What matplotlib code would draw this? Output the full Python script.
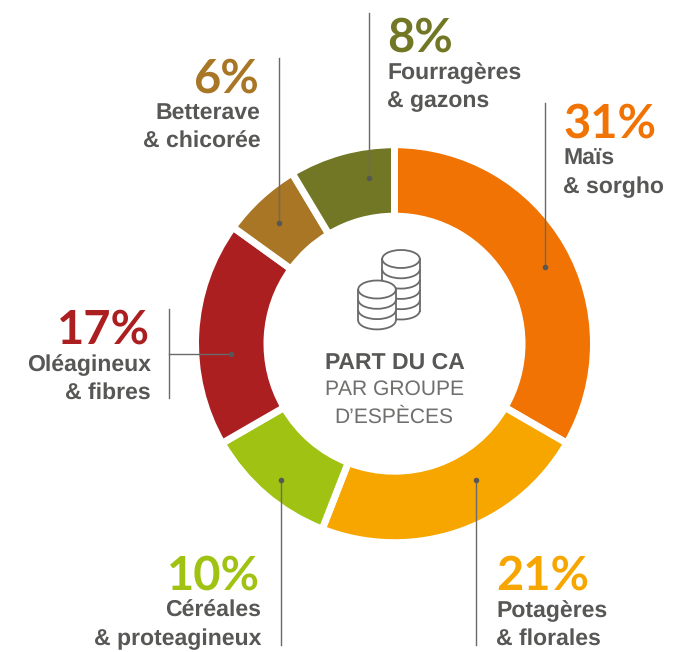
import matplotlib
matplotlib.use("Agg")
import matplotlib.pyplot as plt
from matplotlib.patches import Ellipse, Arc, Rectangle

plt.rcParams["text.hinting"] = "no_hinting"
plt.rcParams["text.hinting_factor"] = 1

W, H = 697, 652
categories = ["Maïs\n& sorgho", "Potagères\n& florales", "Céréales\n& proteagineux",
              "Oléagineux\n& fibres", "Betterave\n& chicorée", "Fourragères\n& gazons"]
values = [31, 21, 10, 17, 6, 8]
colors = ["#F07304", "#F7A600", "#A0C213", "#AC1F21", "#A87624", "#727726"]
GREY = "#575756"
FONT = "Liberation Sans"

label_pos = [(563, 138, "left"), (496, 590, "left"), (260, 590, "right"),
             (149.5, 344, "right"), (259, 93, "right"), (387, 52, "left")]
leaders = [(545, 103, 267), (476, 480, 645), (281, 480, 645),
           (169, 309, 398), (279, 58, 223), (368.5, 13, 178)]

fig = plt.figure(figsize=(W / 100, H / 100), dpi=100, facecolor="white")
ax = fig.add_axes([0, 0, 1, 1])
Y = lambda py: H - py

cx, cy, ro, ri = 394.5, 343.7, 195.5, 131
gap_lw = 7 * 72 / 100
ax.pie(values, colors=colors, startangle=90, counterclock=False,
       center=(cx, Y(cy)), radius=ro + 3.5, frame=True,
       wedgeprops=dict(width=ro - ri + 7, edgecolor="white", linewidth=gap_lw))
ax.set_xlim(0, W)
ax.set_ylim(0, H)
ax.set_aspect("equal")
ax.axis("off")

lc = "#6a6a69"
for i, (x, y0, y1) in enumerate(leaders):
    ax.plot([x, x], [Y(y0), Y(y1)], color=lc, lw=1.0, zorder=5)
    if i == 3:
        ax.plot([x, 230.5], [Y(354), Y(354)], color=lc, lw=1.0, zorder=5)
        ax.plot([230.5], [Y(354)], "o", ms=4, color=GREY, mew=0, zorder=6)
    else:
        dot = y1 if i in (0, 4, 5) else y0
        ax.plot([x], [Y(dot)], "o", ms=4, color=GREY, mew=0, zorder=6)

for cat, val, col, (x, by, ha) in zip(categories, values, colors, label_pos):
    ax.text(x, Y(by - 0.5), f"{val}%", color=col, fontsize=34, ha=ha, va="baseline",
            family="Lato", fontweight="bold")
    l1, l2 = cat.split("\n")
    tx = x + (1.5 if ha == "right" else 0)
    ax.text(tx, Y(by + 27), l1, color=GREY, fontsize=16.3, ha=ha, va="baseline",
            family=FONT, fontweight="bold")
    ax.text(tx, Y(by + 55), l2, color=GREY, fontsize=16.3, ha=ha, va="baseline",
            family=FONT, fontweight="bold")

ax.text(395, Y(368.5), "PART DU CA", color=GREY, fontsize=16.3, ha="center", va="baseline",
        family=FONT, fontweight="bold")
ax.text(394.5, Y(395), "PAR GROUPE", color="#6f6f6e", fontsize=15.4, ha="center", va="baseline", family=FONT)
ax.text(394, Y(423), "D’ESPÈCES", color="#6f6f6e", fontsize=15.4, ha="center", va="baseline", family=FONT)

def stack(x, ytop, n, step, z):
    rx, ry = 18.8, 9
    ybot = ytop + n * step
    ax.add_patch(Rectangle((x - rx, Y(ybot)), 2 * rx, ybot - ytop, fc="white", ec="none", zorder=z))
    ax.add_patch(Ellipse((x, Y(ybot)), 2 * rx, 2 * ry, fc="white", ec="none", zorder=z))
    ax.plot([x - rx, x - rx], [Y(ytop), Y(ybot)], color=lc, lw=1.3, zorder=z + 1)
    ax.plot([x + rx, x + rx], [Y(ytop), Y(ybot)], color=lc, lw=1.3, zorder=z + 1)
    for k in range(1, n + 1):
        ax.add_patch(Arc((x, Y(ytop + k * step)), 2 * rx, 2 * ry, theta1=180, theta2=360,
                         color=lc, lw=1.3, zorder=z + 1))
    ax.add_patch(Ellipse((x, Y(ytop)), 2 * rx, 2 * ry, fc="white", ec=lc, lw=1.3, zorder=z + 1))

stack(401, 259, 5, 10.3, 7)
stack(377, 289.5, 3, 10.3, 9)

fig.savefig("out.png", dpi=100, facecolor="white")
